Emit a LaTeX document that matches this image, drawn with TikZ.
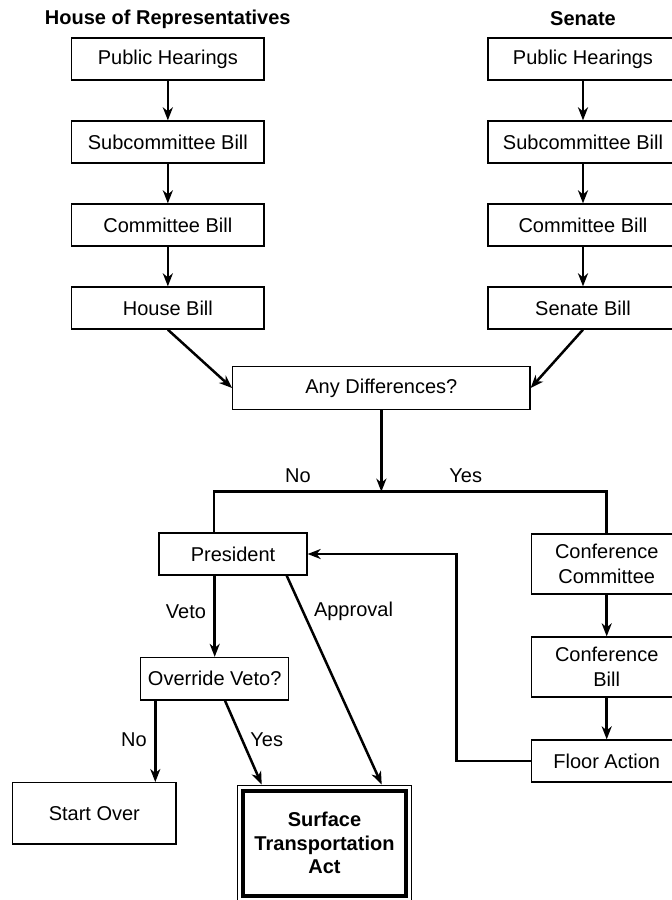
\documentclass[tikz,border=0pt]{standalone}
\usepackage{fontspec}
\setmainfont{Liberation Sans}
\usetikzlibrary{arrows.meta}
\begin{document}
\begin{tikzpicture}[x=1pt,y=-1pt,
  box/.style={draw, line width=1.3pt, inner sep=0pt, align=center, font=\fontsize{20}{24.5}\selectfont},
  hbox/.style={box, minimum width=192.3pt, minimum height=42pt},
  sbox/.style={box, minimum width=190pt, minimum height=42pt},
  cbox/.style={box, minimum width=150pt},
  lbl/.style={inner sep=0pt, font=\fontsize{20}{24}\selectfont},
  ttl/.style={inner sep=0pt, font=\fontsize{20}{24}\selectfont\bfseries},
  conn/.style={line width=2.5pt, -{Stealth[length=13pt,width=10pt,inset=4pt]}},
  plainline/.style={line width=2.5pt}]
\clip (0,0) rectangle (672,900);
% titles
\node[ttl] (th) at (167.8,19) {House of Representatives};
\node[ttl] (ts) at (583,19) {Senate};
% house column
\node[hbox] (ph1) at (167.85,59) {Public Hearings};
\node[hbox] (sc1) at (167.85,142) {Subcommittee Bill};
\node[hbox] (cm1) at (167.85,225) {Committee Bill};
\node[hbox] (hb) at (167.85,308) {House Bill};
% senate column
\node[sbox] (ph2) at (583,59) {Public Hearings};
\node[sbox] (sc2) at (583,142) {Subcommittee Bill};
\node[sbox] (cm2) at (583,225) {Committee Bill};
\node[sbox] (sb) at (583,308) {Senate Bill};
% middle
\node[box, minimum width=297.3pt, minimum height=42.6pt] (diff) at (381.35,388) {Any Differences?};
\node[box, minimum width=148pt, minimum height=42pt] (pres) at (233,554) {President};
\node[cbox, minimum height=60pt] (cc) at (606.7,564) {Conference\\Committee};
\node[cbox, minimum height=60pt] (cb) at (606.7,667) {Conference\\Bill};
\node[cbox, minimum height=42pt] (fa) at (606.7,761) {Floor Action};
\node[box, minimum width=148pt, minimum height=42.5pt] (ov) at (214.7,678.75) {Override Veto?};
\node[box, minimum width=163.3pt, minimum height=61.3pt] (so) at (94.35,813.35) {Start Over};
\node[box, minimum width=174.4pt, minimum height=115.7pt, font=\fontsize{20}{23.5}\selectfont\bfseries] (act) at (324.5,843) {Surface\\Transportation\\Act};
\draw[line width=4pt] ([xshift=6pt,yshift=-6pt]act.north west) rectangle ([xshift=-6pt,yshift=6pt]act.south east);
% column arrows
\draw[conn] (ph1) -- (sc1);
\draw[conn] (sc1) -- (cm1);
\draw[conn] (cm1) -- (hb);
\draw[conn] (ph2) -- (sc2);
\draw[conn] (sc2) -- (cm2);
\draw[conn] (cm2) -- (sb);
\draw[conn] (hb.south) -- (diff.west);
\draw[conn] (sb.south) -- (diff.east);
% fork
\coordinate (fy) at (0,491.7);
\coordinate (fl) at (214,491.7);
\coordinate (fr) at (cc.north |- fy);
\draw[conn] (diff.south) -- (diff.south |- fy);
\draw[plainline] (pres.north -| fl) -- (fl) -- (fr) -- (cc.north);
\node[lbl] (lno) at (298,476) {No};
\node[lbl] (lyes) at (465.7,476) {Yes};
% conference chain
\draw[conn] (cc) -- (cb);
\draw[conn] (cb) -- (fa);
\coordinate (fbx) at (456.7,0);
\draw[conn] (fa.west) -- (fa.west -| fbx) -- (pres.east -| fbx) -- (pres.east);
% president
\draw[conn] (ov.north |- pres.south) -- (ov.north);
\node[lbl] (lveto) at (186,611.7) {Veto};
\draw[conn] ([xshift=53.7pt]pres.south) -- ([xshift=57.2pt]act.north);
\node[lbl] (lapp) at (353.5,611) {Approval};
% override
\draw[conn] ([xshift=-59.4pt]ov.south) -- ([xshift=-59.4pt]ov.south |- so.north);
\node[lbl] (lno2) at (134,740) {No};
\draw[conn] ([xshift=10.3pt]ov.south) -- ([xshift=-62.8pt]act.north);
\node[lbl] (lyes2) at (266.7,740) {Yes};
\end{tikzpicture}
\end{document}
